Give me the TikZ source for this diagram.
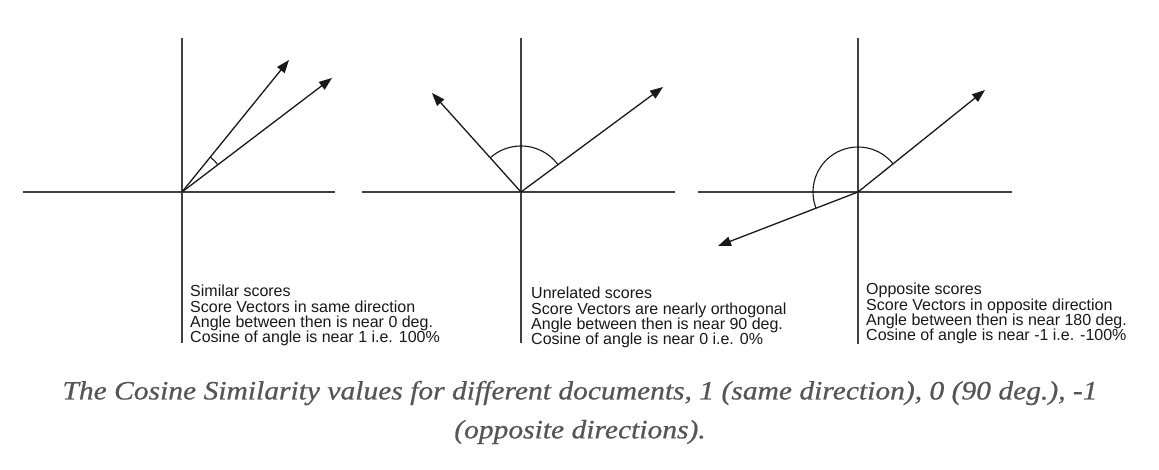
\documentclass[tikz,border=0pt]{standalone}
\usepackage{fontspec}
\setmainfont{Liberation Sans}
\newfontfamily\capfont[FakeBold=0.6]{Liberation Serif}
\usetikzlibrary{arrows.meta,calc}
\definecolor{axisgray}{HTML}{404040}
\definecolor{capgray}{HTML}{555555}
\newlength\capw
\newcommand\capone{The Cosine Similarity values for different documents, 1 (same direction), 0 (90 deg.), -1}
\newcommand\captwo{(opposite directions).}
\newcommand\capstyle{\fontsize{26.5}{30}\capfont\itshape}
\begin{document}
\settowidth\capw{\capstyle\capone}%
\pgfmathsetmacro\capsx{1035/\capw}%
\begin{tikzpicture}[x=1pt,y=-1pt,
  axis/.style={draw=axisgray,line width=1.8pt},
  vec/.style={draw=black!90,line width=1.3pt,-{Triangle[length=13pt,width=9.5pt]}},
  anglearc/.style={draw=black!90,line width=1.1pt},
  desc/.style={anchor=north west,inner sep=0pt,align=left,font=\fontsize{16}{15.4}\selectfont,text=black!90},
  caption/.style={inner sep=0pt,text=capgray}]
\useasboundingbox (0,0) rectangle (1159,470);
\fill[white] (0,0) rectangle (1159,470);
% ---------- panel 1 ----------
\coordinate (O1) at (182,192);
\coordinate (T1) at (182,38);
\coordinate (B1) at (182,343);
\coordinate (L1) at (23,192);
\coordinate (R1) at (335,192);
\coordinate (A1) at (289,60);
\coordinate (A2) at (332,78);
\draw[axis] (T1) -- (B1);
\draw[axis] (L1) -- (R1);
\draw[vec] (O1) -- (A1);
\draw[vec] (O1) -- (A2);
\draw[anglearc] ($(O1)+(-37.2:45)$) arc[start angle=-37.2,end angle=-51,radius=45];
% ---------- panel 2 ----------
\coordinate (O2) at (521,192);
\coordinate (T2) at (521,38);
\coordinate (B2) at (521,343);
\coordinate (L2) at (362,192);
\coordinate (R2) at (675,192);
\coordinate (C1) at (432,93);
\coordinate (C2) at (663,87);
\draw[axis] (T2) -- (B2);
\draw[axis] (L2) -- (R2);
\draw[vec] (O2) -- (C1);
\draw[vec] (O2) -- (C2);
\draw[anglearc] ($(O2)+(-36.5:46)$) arc[start angle=-36.5,end angle=-132,radius=46];
% ---------- panel 3 ----------
\coordinate (O3) at (858,192);
\coordinate (T3) at (858,38);
\coordinate (B3) at (858,344);
\coordinate (L3) at (698,192);
\coordinate (R3) at (1012,192);
\coordinate (D1) at (985,90);
\coordinate (D2) at (718,246);
\draw[axis] (T3) -- (B3);
\draw[axis] (L3) -- (R3);
\draw[vec] (O3) -- (D1);
\draw[vec] (O3) -- (D2);
\draw[anglearc] ($(O3)+(-38.8:45)$) arc[start angle=-38.8,end angle=-201.1,radius=45];
% texts
\node[desc] (t1) at (190,285) {Similar scores\\Score Vectors in same direction\\Angle between then is near 0 deg.\\Cosine of angle is near 1 i.e. 100\%};
\node[desc] (t2) at (531,287) {Unrelated scores\\Score Vectors are nearly orthogonal\\Angle between then is near 90 deg.\\Cosine of angle is near 0 i.e. 0\%};
\node[desc] (t3) at (866,283) {Opposite scores\\Score Vectors in opposite direction\\Angle between then is near 180 deg.\\Cosine of angle is near -1 i.e. -100\%};
% caption
\node[caption] (cap1) at (580,393) {\scalebox{\capsx}[1]{\capstyle\capone}};
\node[caption] (cap2) at (580,432) {\scalebox{\capsx}[1]{\capstyle\captwo}};
\end{tikzpicture}
\end{document}
